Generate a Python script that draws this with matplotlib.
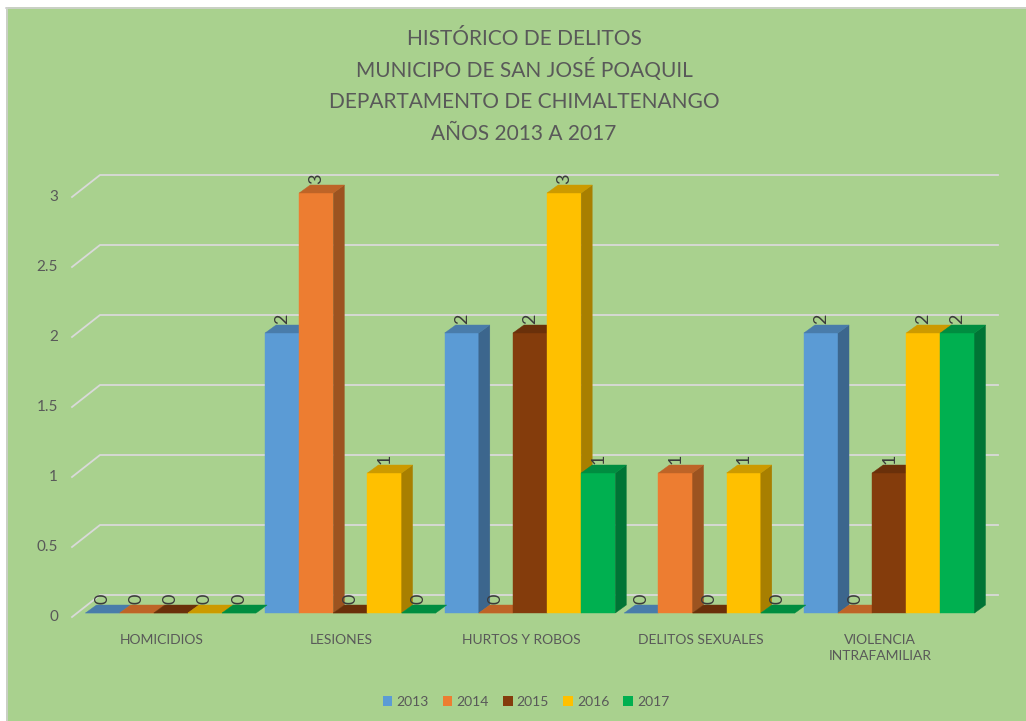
import matplotlib
matplotlib.use('Agg')
import matplotlib.pyplot as plt
import matplotlib.transforms as mtransforms
from matplotlib.patches import Polygon, Rectangle
from matplotlib.lines import Line2D
import numpy as np
from matplotlib.colors import to_rgb

# ---------------- data ----------------
categories = ['HOMICIDIOS', 'LESIONES', 'HURTOS Y ROBOS', 'DELITOS SEXUALES',
              'VIOLENCIA\nINTRAFAMILIAR']
years = ['2013', '2014', '2015', '2016', '2017']
v2013 = [0, 2, 2, 0, 2]
v2014 = [0, 3, 0, 1, 0]
v2015 = [0, 0, 2, 0, 1]
v2016 = [0, 1, 3, 1, 2]
v2017 = [0, 0, 1, 0, 2]
series = [v2013, v2014, v2015, v2016, v2017]
colors = ['#5B9BD5', '#ED7D31', '#843C0C', '#FFC000', '#00B050']
yticks = [0, 0.5, 1, 1.5, 2, 2.5, 3]
ytick_labels = ['0', '0.5', '1', '1.5', '2', '2.5', '3']
title_lines = ['HISTÓRICO DE DELITOS', 'MUNICIPO DE SAN JOSÉ POAQUIL',
               'DEPARTAMENTO DE CHIMALTENANGO', 'AÑOS 2013 A 2017']

# ---------------- style ----------------
BG = '#A9D18E'
TXT = '#595959'
GRID = '#D9D9D9'
FONT = ['Lato', 'DejaVu Sans']
plt.rcParams['font.family'] = FONT

W, H, DPI = 1026, 721, 100
fig = plt.figure(figsize=(W / DPI, H / DPI), dpi=DPI)
fig.patch.set_facecolor(BG)

# white margin strips (screenshot border)
fig.patches.append(Rectangle((0, 1 - 7 / H), 1, 7 / H, transform=fig.transFigure,
                             facecolor='white', edgecolor='none', zorder=0))
fig.patches.append(Rectangle((0, 0), 6 / W, 1, transform=fig.transFigure,
                             facecolor='white', edgecolor='none', zorder=0))
fig.add_artist(Line2D([6 / W, 1], [1 - 7.5 / H, 1 - 7.5 / H], transform=fig.transFigure,
                      color='#D0D0D0', lw=1.2))
fig.add_artist(Line2D([6.5 / W, 6.5 / W], [0, 1 - 7.5 / H], transform=fig.transFigure,
                      color='#D0D0D0', lw=1.2))

# front plane of plot area (pixels)
FX0, FX1, FY0, FY3 = 72, 970, 617, 197
ax = fig.add_axes([FX0 / W, (H - FY0) / H, (FX1 - FX0) / W, (FY0 - FY3) / H])
ax.set_xlim(-0.5, len(categories) - 0.5)
ax.set_ylim(0, 3)
ax.axis('off')

WALL = np.array([28.0, 22.0])      # depth of back wall (px)
BAR_SHIFT = np.array([9.0, 4.0])   # bar front face offset (px)
BAR_DEPTH = np.array([11.0, 8.0])  # bar depth (px)


def off(dx, dy):
    return mtransforms.ScaledTranslation(dx / DPI, dy / DPI, fig.dpi_scale_trans)


def disp(x, y, extra=(0, 0)):
    p = ax.transData.transform((x, y))
    return p + np.asarray(extra)


ident = mtransforms.IdentityTransform()

# gridlines: slanted side wall part + back wall horizontal
for yv in yticks:
    a = disp(-0.5, yv)
    b = disp(-0.5, yv, WALL)
    c = disp(len(categories) - 0.5, yv, WALL)
    ax.add_line(Line2D([a[0], b[0], c[0]], [a[1], b[1], c[1]], transform=ident,
                       color=GRID, lw=1.3, zorder=1, clip_on=False))

# tick labels
for yv, lab in zip(yticks, ytick_labels):
    ax.text(-0.5, yv, lab, transform=ax.transData + off(-14, 0), ha='right',
            va='center', fontsize=11, color=TXT)

# category labels
for i, cat in enumerate(categories):
    ax.text(i, 0, cat, transform=ax.transData + off(0, -17), ha='center', va='top',
            fontsize=10, color=TXT, linespacing=1.4)


def shade(col, f):
    r, g, b = to_rgb(col)
    return (r * f, g * f, b * f)


n = len(series)
bw = 0.19
x = np.arange(len(categories))
for j, (vals, col) in enumerate(zip(series, colors)):
    xs = x + (j - (n - 1) / 2) * bw
    z = 3 + j * 0.1
    bars = ax.bar(xs, vals, width=bw, color=col, edgecolor=col, linewidth=0.3,
                  zorder=z)
    for rect in bars:
        rect.set_transform(ax.transData + off(*BAR_SHIFT))
        rect.set_clip_on(False)
    for xi, v in zip(xs, vals):
        x0, x1 = xi - bw / 2, xi + bw / 2
        # side face
        p1 = disp(x1, 0, BAR_SHIFT)
        p2 = disp(x1, v, BAR_SHIFT)
        p3 = disp(x1, v, BAR_SHIFT + BAR_DEPTH)
        p4 = disp(x1, 0, BAR_SHIFT + BAR_DEPTH)
        if v > 0:
            ax.add_patch(Polygon([p1, p2, p3, p4], closed=True, transform=ident,
                                 facecolor=shade(col, 0.66), edgecolor=shade(col, 0.66),
                                 lw=0.3, zorder=z + 0.01, clip_on=False))
        # top face
        t1 = disp(x0, v, BAR_SHIFT)
        t2 = disp(x1, v, BAR_SHIFT)
        t3 = disp(x1, v, BAR_SHIFT + BAR_DEPTH)
        t4 = disp(x0, v, BAR_SHIFT + BAR_DEPTH)
        ax.add_patch(Polygon([t1, t2, t3, t4], closed=True, transform=ident,
                             facecolor=shade(col, 0.8), edgecolor=shade(col, 0.8),
                             lw=0.3, zorder=z + 0.02, clip_on=False))
        # data label
        ax.text(xi, v, f'{v:g}', transform=ax.transData + off(BAR_SHIFT[0], BAR_SHIFT[1] + 9),
                rotation=90, ha='center', va='bottom', fontsize=13, color='#3A3A3A',
                zorder=10)

# title
title_baselines = [45, 77, 108, 139.5]
for line, yb in zip(title_lines, title_baselines):
    fig.text(524 / W, 1 - yb / H, line, ha='center', va='baseline', fontsize=15,
             color=TXT)

# legend
handles = [Rectangle((0, 0), 1, 1, facecolor=c, edgecolor='none') for c in colors]
leg = fig.legend(handles, years, loc='center', bbox_to_anchor=(526 / W, 1 - 702 / H),
                 ncol=5, frameon=False, fontsize=10, handlelength=0.7, handleheight=0.7,
                 handletextpad=0.3, columnspacing=1.0, labelcolor=TXT)

fig.savefig('out.png', dpi=DPI, facecolor=fig.get_facecolor())
